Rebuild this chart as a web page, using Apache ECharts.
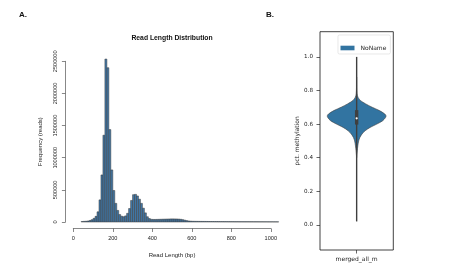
<!DOCTYPE html>
<html>
<head>
<meta charset="utf-8">
<script src="https://cdn.jsdelivr.net/npm/echarts@6/dist/echarts.min.js"></script>
<style>
  html, body { margin: 0; padding: 0; background: #fff; }
  #chart { width: 451px; height: 274px; }
</style>
</head>
<body>
<div id="chart"></div>
<script>
// A. read length histogram, 10 bp bins starting at 40
const binStarts = [
  40, 50, 60, 70, 80, 90, 100, 110, 120, 130, 140, 150, 160, 170, 180, 190, 200, 210, 220, 230,
  240, 250, 260, 270, 280, 290, 300, 310, 320, 330, 340, 350, 360, 370, 380, 390, 400, 410, 420, 430,
  440, 450, 460, 470, 480, 490, 500, 510, 520, 530, 540, 550, 560, 570, 580, 590, 600, 610, 620, 630,
  640, 650, 660, 670, 680, 690, 700, 710, 720, 730, 740, 750, 760, 770, 780, 790, 800, 810, 820, 830,
  840, 850, 860, 870, 880, 890, 900, 910, 920, 930, 940, 950, 960, 970, 980, 990, 1000, 1010, 1020, 1030
]
const binWidth = 10
const readCounts = [
  8000, 10000, 12000, 16000, 24000, 36000, 57000, 88000, 158000, 344000,
  732000, 1350000, 2535000, 2400000, 1438000, 810000, 490000, 290000, 180000, 116000,
  90000, 82000, 95000, 135000, 210000, 335000, 425000, 430000, 405000, 355000,
  290000, 215000, 142000, 82000, 54000, 42000, 40000, 40000, 41000, 42000,
  43000, 44000, 45000, 46000, 47000, 48000, 48000, 48000, 47000, 45000,
  42000, 36000, 28000, 21000, 16000, 13000, 11000, 10500, 10000, 9500,
  9200, 8900, 8600, 8300, 8000, 7700, 7400, 7200, 7000, 6800,
  6600, 6400, 6200, 6000, 5800, 5600, 5400, 5300, 5100, 5000,
  4800, 4700, 4600, 4500, 4400, 4300, 4200, 4100, 4000, 3900,
  3800, 3700, 3600, 3500, 3400, 3300, 3200, 3100, 3000, 2900
]

// B. violin of pct. methylation
const violinCategories = ['merged_all_m']
const violinLevels = [0.40, 0.44, 0.47, 0.50, 0.52, 0.54, 0.56, 0.58, 0.60, 0.62, 0.64, 0.65, 0.66, 0.68, 0.70, 0.72, 0.74, 0.76, 0.78, 0.82, 0.88]
const violinDensity = [0.0, 0.02, 0.04, 0.07, 0.11, 0.18, 0.29, 0.46, 0.69, 0.89, 0.99, 1.0, 0.96, 0.78, 0.53, 0.31, 0.13, 0.045, 0.015, 0.005, 0.0]
// whisker low, q1, median, q3, whisker high
const violinBox = [0.02, 0.597, 0.634, 0.683, 1.0]
const methylTicks = [0.0, 0.2, 0.4, 0.6, 0.8, 1.0]

const histData = binStarts.map((s, i) => [s, s + binWidth, readCounts[i]])

const chart = echarts.init(document.getElementById('chart'))

function renderBin(params, api) {
  const p0 = api.coord([api.value(0), 0])
  const p1 = api.coord([api.value(1), api.value(2)])
  return {
    type: 'rect',
    shape: { x: p0[0], y: p1[1], width: p1[0] - p0[0], height: p0[1] - p1[1] },
    style: { fill: '#4177a6', stroke: '#3a3a3a', lineWidth: 0.5 }
  }
}

function renderViolin(params, api) {
  const band = api.size([1, 0])[0]
  const half = band * 0.4
  const center = api.coord([0, 0.5])[0]
  const right = []
  const left = []
  violinLevels.forEach(function(lv, i) {
    const y = api.coord([0, lv])[1]
    right.push([center + violinDensity[i] * half, y])
    left.unshift([center - violinDensity[i] * half, y])
  })
  const wLo = api.coord([0, violinBox[0]])[1]
  const q1 = api.coord([0, violinBox[1]])[1]
  const med = api.coord([0, violinBox[2]])[1]
  const q3 = api.coord([0, violinBox[3]])[1]
  const wHi = api.coord([0, violinBox[4]])[1]
  return {
    type: 'group',
    children: [
      {
        type: 'polygon',
        shape: { points: right.concat(left), smooth: 0.3 },
        style: { fill: '#3274a1', stroke: '#3f3f3f', lineWidth: 0.6 }
      },
      {
        type: 'line',
        shape: { x1: center, y1: wLo, x2: center, y2: wHi },
        style: { stroke: '#3f3f3f', lineWidth: 1.4 }
      },
      {
        type: 'line',
        shape: { x1: center, y1: q1, x2: center, y2: q3 },
        style: { stroke: '#3f3f3f', lineWidth: 3.4 }
      },
      {
        type: 'circle',
        shape: { cx: center, cy: med, r: 1.1 },
        style: { fill: '#fff' }
      }
    ]
  }
}

const rFont = 'Liberation Sans, Arial, Helvetica, sans-serif'
const pyFont = 'DejaVu Sans, sans-serif'

chart.setOption({
  animation: false,
  graphic: [
    { type: 'text', x: 23, y: 15, style: { text: 'A.', font: 'bold 8px ' + rFont, fill: '#111', textAlign: 'center', textVerticalAlign: 'middle' } },
    { type: 'text', x: 270, y: 15, style: { text: 'B.', font: 'bold 8px ' + rFont, fill: '#111', textAlign: 'center', textVerticalAlign: 'middle' } },
    { type: 'text', x: 172, y: 38, style: { text: 'Read Length Distribution', font: 'bold 6.8px ' + rFont, fill: '#111', textAlign: 'center', textVerticalAlign: 'middle' } }
  ],
  grid: [
    { left: 73.3, top: 61.3, width: 197.5, height: 160.7 },
    { left: 320, top: 31.7, width: 73.3, height: 218.3, show: true, borderColor: '#111', borderWidth: 0.8, backgroundColor: 'transparent' }
  ],
  legend: {
    data: ['NoName'],
    left: 338,
    top: 35,
    orient: 'vertical',
    icon: 'rect',
    itemWidth: 14,
    itemHeight: 4.6,
    itemGap: 0,
    padding: [10, 4, 3, 2.5],
    borderColor: '#d8d8d8',
    borderWidth: 0.6,
    borderRadius: 1.5,
    backgroundColor: '#fff',
    textStyle: { fontFamily: pyFont, fontSize: 6, color: '#222', padding: [0, 0, 0, 1] }
  },
  xAxis: [
    {
      gridIndex: 0,
      type: 'value',
      min: 0,
      max: 1000,
      interval: 200,
      offset: 6.5,
      name: 'Read Length (bp)',
      nameLocation: 'middle',
      nameGap: 24,
      nameTextStyle: { fontFamily: rFont, fontSize: 6, color: '#222' },
      axisLine: { show: true, onZero: false, lineStyle: { color: '#555', width: 0.7 } },
      axisTick: { show: true, length: 3.5, lineStyle: { color: '#555', width: 0.7 } },
      axisLabel: { fontFamily: rFont, fontSize: 5.6, color: '#222', margin: 7, formatter: v => String(v) },
      splitLine: { show: false }
    },
    {
      gridIndex: 1,
      type: 'category',
      data: violinCategories,
      axisLine: { show: false, onZero: false },
      axisTick: { show: true, alignWithLabel: true, length: 3.5, lineStyle: { color: '#222', width: 0.7 } },
      axisLabel: { fontFamily: pyFont, fontSize: 6, color: '#222', margin: 6 }
    }
  ],
  yAxis: [
    {
      gridIndex: 0,
      type: 'value',
      min: 0,
      max: 2500000,
      interval: 500000,
      offset: 7.9,
      name: 'Frequency (reads)',
      nameLocation: 'middle',
      nameGap: 22,
      nameTextStyle: { fontFamily: rFont, fontSize: 6, color: '#222' },
      axisLine: { show: true, onZero: false, lineStyle: { color: '#555', width: 0.7 } },
      axisTick: { show: true, length: 3.5, lineStyle: { color: '#555', width: 0.7 } },
      axisLabel: { fontFamily: rFont, fontSize: 5.6, color: '#222', rotate: 90, margin: 7, formatter: v => String(v) },
      splitLine: { show: false }
    },
    {
      gridIndex: 1,
      type: 'value',
      min: -0.15,
      max: 1.15,
      name: 'pct. methylation',
      nameLocation: 'middle',
      nameGap: 18,
      nameTextStyle: { fontFamily: pyFont, fontSize: 6, color: '#222' },
      axisLine: { show: false, onZero: false },
      axisTick: { show: true, length: 3.5, customValues: methylTicks, lineStyle: { color: '#222', width: 0.7 } },
      axisLabel: { fontFamily: pyFont, fontSize: 5.6, color: '#222', margin: 7, customValues: methylTicks, formatter: v => v.toFixed(1) },
      splitLine: { show: false }
    }
  ],
  series: [
    {
      type: 'custom',
      name: 'reads',
      xAxisIndex: 0,
      yAxisIndex: 0,
      clip: false,
      renderItem: renderBin,
      encode: { x: [0, 1], y: 2 },
      data: histData
    },
    {
      type: 'custom',
      name: 'NoName',
      xAxisIndex: 1,
      yAxisIndex: 1,
      clip: false,
      itemStyle: { color: '#3274a1' },
      renderItem: renderViolin,
      encode: { x: 0, y: 1 },
      data: [[0, violinBox[2]]]
    }
  ]
})
</script>
</body>
</html>
